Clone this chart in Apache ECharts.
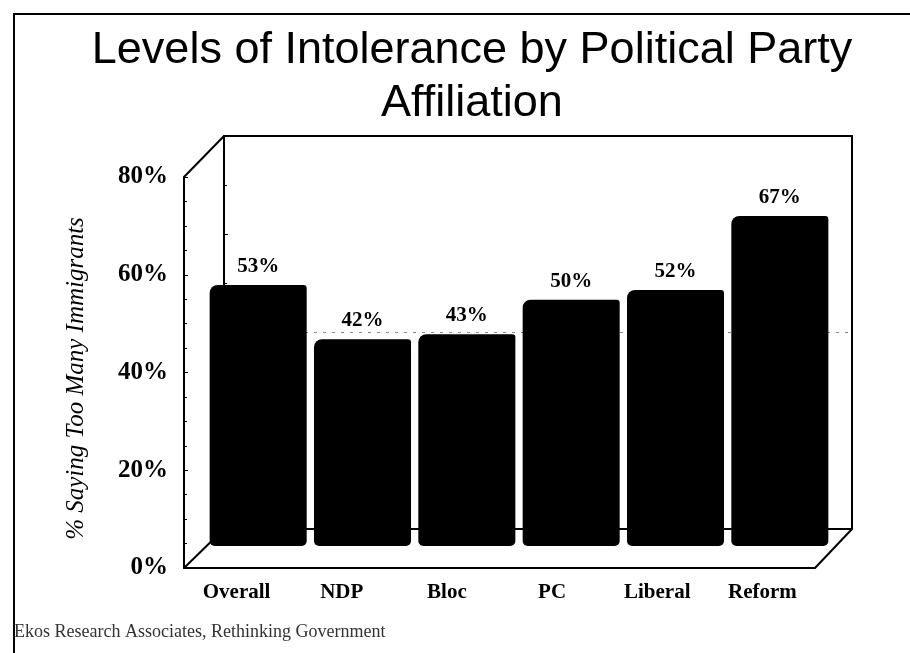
<!DOCTYPE html>
<html>
<head>
<meta charset="utf-8">
<script src="https://cdn.jsdelivr.net/npm/echarts@6/dist/echarts.min.js"></script>
<style>
html,body{margin:0;padding:0;background:#fff;}
#chart{width:910px;height:653px;}
</style>
</head>
<body>
<div id="chart"></div>
<script>
const categories = ['Overall', 'NDP', 'Bloc', 'PC', 'Liberal', 'Reform'];
const values = [53, 42, 43, 50, 52, 67];
const yTickLabels = ['0%', '20%', '40%', '60%', '80%'];
const titleText = 'Levels of Intolerance by Political Party\nAffiliation';
const yTitle = '% Saying Too Many Immigrants';
const sourceText = 'Ekos Research Associates, Rethinking Government';

const serif = '"Liberation Serif", "Times New Roman", serif';
const sans = '"Liberation Sans", Arial, sans-serif';

// layout (front face, back wall, bar plane)
const FRONT = {left: 184, top: 177, right: 815, bottom: 568};
const BACK = {left: 224, top: 136, right: 852, bottom: 529};
const BARS = {left: 206, top: 152, right: 832, bottom: 546};

const chart = echarts.init(document.getElementById('chart'), null, {renderer: 'canvas'});
const lineBlack = {color: '#000', width: 2};

function line(x1, y1, x2, y2, z) {
  return {type: 'line', z: z, shape: {x1: x1, y1: y1, x2: x2, y2: y2}, style: {stroke: '#000', lineWidth: 2}};
}

const option = {
  backgroundColor: '#fff',
  animation: false,
  title: {
    text: titleText,
    left: 467,
    top: 19,
    textAlign: 'center',
    textStyle: {fontFamily: sans, fontSize: 45, fontWeight: 'normal', color: '#000', lineHeight: 53}
  },
  grid: [
    {left: FRONT.left, top: FRONT.top, width: FRONT.right - FRONT.left, height: FRONT.bottom - FRONT.top},
    {left: BACK.left, top: BACK.top, width: BACK.right - BACK.left, height: BACK.bottom - BACK.top},
    {left: BARS.left, top: BARS.top, width: BARS.right - BARS.left, height: BARS.bottom - BARS.top}
  ],
  xAxis: [
    {gridIndex: 0, type: 'category', data: categories, position: 'bottom',
     axisLine: {show: true, lineStyle: lineBlack}, axisTick: {show: false},
     axisLabel: {margin: 14, fontFamily: serif, fontWeight: 'bold', fontSize: 21, color: '#000'}},
    {gridIndex: 1, type: 'value', min: 0, max: 1, position: 'bottom',
     axisLine: {show: true, onZero: false, lineStyle: lineBlack}, axisTick: {show: false}, axisLabel: {show: false}, splitLine: {show: false}},
    {gridIndex: 1, type: 'value', min: 0, max: 1, position: 'top',
     axisLine: {show: true, onZero: false, lineStyle: lineBlack}, axisTick: {show: false}, axisLabel: {show: false}, splitLine: {show: false}},
    {gridIndex: 2, type: 'category', data: categories, show: false}
  ],
  yAxis: [
    {gridIndex: 0, type: 'value', min: 0, max: 80, interval: 20, position: 'left',
     axisLine: {show: true, onZero: false, lineStyle: lineBlack},
     axisTick: {show: true, inside: true, length: 4, lineStyle: {color: '#000', width: 1}},
     minorTick: {show: true, splitNumber: 4, length: 3, lineStyle: {color: '#000', width: 1}},
     splitLine: {show: false},
     axisLabel: {margin: 16, fontFamily: serif, fontWeight: 'bold', fontSize: 25, color: '#000',
       formatter: function (v) { return yTickLabels[Math.round(v / 20)]; }}},
    {gridIndex: 1, type: 'value', min: 0, max: 80, interval: 20, position: 'left',
     axisLine: {show: true, onZero: false, lineStyle: lineBlack},
     axisTick: {show: true, inside: true, length: 4, lineStyle: {color: '#000', width: 1}},
     minorTick: {show: true, splitNumber: 2, length: 3, lineStyle: {color: '#000', width: 1}},
     axisLabel: {show: false},
     splitLine: {show: true, lineStyle: {type: [3, 6], width: 1,
       color: ['rgba(0,0,0,0)', 'rgba(0,0,0,0)', '#888', 'rgba(0,0,0,0)', 'rgba(0,0,0,0)']}}},
    {gridIndex: 1, type: 'value', min: 0, max: 80, interval: 20, position: 'right',
     axisLine: {show: true, onZero: false, lineStyle: lineBlack}, axisTick: {show: false}, axisLabel: {show: false}, splitLine: {show: false}},
    {gridIndex: 2, type: 'value', min: 0, max: 80, interval: 20, show: false}
  ],
  graphic: [
    {type: 'polyline', z: 10, shape: {points: [[14, 653], [14, 14], [910, 14]]}, style: {stroke: '#000', lineWidth: 2, fill: null}},
    line(FRONT.left, FRONT.top, BACK.left, BACK.top, 0),
    line(FRONT.left, FRONT.bottom, BACK.left, BACK.bottom, 0),
    line(FRONT.right, FRONT.bottom, BACK.right, BACK.bottom, 0),
    {type: 'text', x: 76, y: (FRONT.top + FRONT.bottom) / 2 + 6, rotation: Math.PI / 2,
     style: {text: yTitle, font: 'italic 25px ' + serif, fill: '#000', align: 'center', verticalAlign: 'middle'}},
    {type: 'text', x: 14, y: 632,
     style: {text: sourceText, font: '18px ' + serif, fill: '#333', align: 'left', verticalAlign: 'middle'}}
  ],
  series: [
    {type: 'bar', xAxisIndex: 3, yAxisIndex: 3, data: values, barCategoryGap: '7%', z: 5,
     itemStyle: {color: '#000', borderRadius: [8, 3, 5, 5]},
     label: {show: true, position: 'top', distance: 8, formatter: '{c}%',
       fontFamily: serif, fontWeight: 'bold', fontSize: 21, color: '#000'}}
  ]
};
chart.setOption(option);
</script>
</body>
</html>
